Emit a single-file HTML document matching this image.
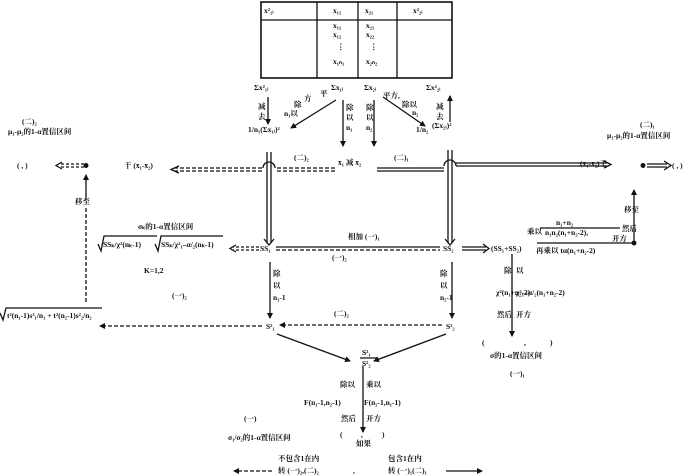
<!DOCTYPE html>
<html><head><meta charset="utf-8"><style>
html,body{margin:0;padding:0;background:#fff;}
svg{display:block}
text{font-family:"Liberation Serif","Noto Serif CJK SC",serif;font-size:7.5px;fill:#111;font-weight:bold}
</style></head><body>
<svg width="700" height="476" viewBox="0 0 700 476" xmlns="http://www.w3.org/2000/svg">
<defs>
<marker id="a" markerWidth="6" markerHeight="6" refX="5" refY="3" orient="auto" markerUnits="userSpaceOnUse"><path d="M0,0 L6,3 L0,6 z" fill="#111"/></marker>
</defs>
<g stroke="#111" fill="none" stroke-width="1.3">
<rect x="261" y="2" width="191" height="76" stroke-width="1.6"/>
<line x1="261" y1="20" x2="452" y2="20"/>
<line x1="317" y1="2" x2="317" y2="78"/>
<line x1="358" y1="2" x2="358" y2="78"/>
<line x1="397" y1="2" x2="397" y2="78"/>
<line x1="268" y1="97" x2="268" y2="124" marker-end="url(#a)"/>
<line x1="336" y1="100" x2="291" y2="128" marker-end="url(#a)"/>
<line x1="343" y1="100" x2="343" y2="146" marker-end="url(#a)"/>
<line x1="374" y1="100" x2="374" y2="146" marker-end="url(#a)"/>
<line x1="383" y1="97" x2="425" y2="126" marker-end="url(#a)"/>
<line x1="450" y1="122" x2="450" y2="96" marker-end="url(#a)"/>
<path d="M335,168 L276,168 M335,171 L276,171" stroke-dasharray="4,2"/>
<path d="M262,168 L175,168 M262,171 L175,171" stroke-dasharray="4,2"/>
<path d="M179,166 L171,169.5 L179,173"/>
<path d="M377,168 L444,168 M377,171 L444,171"/>
<path d="M456,163 L607,163 M456,166 L607,166"/>
<path d="M604,161 L611,164.5 L604,168"/>
<path d="M84,164 L60,164 M84,167 L60,167" stroke-dasharray="3,2"/>
<path d="M62,162 L56,165.5 L62,169"/>
<path d="M647,164 L667,164 M647,167 L667,167"/>
<path d="M664,161 L671,165.5 L664,170"/>
<path d="M263,168 A6,6 0 0 1 275,168"/>
<path d="M444,166 A6,6 0 0 1 456,166"/>
<path d="M267,152 L267,243 M271,152 L271,243"/>
<path d="M448,150 L448,243 M452,150 L452,243"/>
<path d="M264,239 L269,245 L274,239"/>
<path d="M445,239 L450,245 L455,239"/>
<circle cx="86" cy="165.5" r="1.8" fill="#111"/>
<circle cx="643" cy="165.5" r="1.8" fill="#111"/>
<line x1="86" y1="200" x2="86" y2="175" marker-end="url(#a)"/>
<line x1="86" y1="208" x2="86" y2="304" stroke-dasharray="4,2"/>
<path d="M259,247 L233,247 M259,250 L233,250" stroke-dasharray="3,2"/>
<path d="M236,245 L230,248.5 L236,252"/>
<path d="M276,247 L440,247"/>
<path d="M276,250 L440,250" stroke-dasharray="4,2"/>
<path d="M462,247 L486,247 M462,250 L486,250"/>
<path d="M483,244 L489,248.5 L483,253"/>
<line x1="537" y1="243" x2="632" y2="243"/>
<circle cx="634" cy="243" r="1.8" fill="#111"/>
<line x1="634" y1="241" x2="634" y2="190" marker-end="url(#a)"/>
<line x1="270" y1="262" x2="270" y2="318" marker-end="url(#a)"/>
<line x1="452" y1="262" x2="452" y2="318" marker-end="url(#a)"/>
<line x1="512" y1="254" x2="512" y2="336" marker-end="url(#a)"/>
<line x1="442" y1="325" x2="280" y2="325" stroke-dasharray="4,2" marker-end="url(#a)"/>
<line x1="262" y1="326" x2="100" y2="326" stroke-dasharray="4,2" marker-end="url(#a)"/>
<line x1="277" y1="334" x2="350" y2="361" marker-end="url(#a)"/>
<line x1="446" y1="334" x2="374" y2="361" marker-end="url(#a)"/>
<line x1="360" y1="358" x2="378" y2="358"/>
<line x1="363" y1="366" x2="363" y2="432" marker-end="url(#a)"/>
<line x1="272" y1="471" x2="234" y2="471" stroke-dasharray="4,2" marker-end="url(#a)"/>
<line x1="446" y1="471" x2="482" y2="471" marker-end="url(#a)"/>
<path d="M98,244 L101,251 L104,236 L157,236 M155,244 L158,251 L161,236 L223,236"/>
<path d="M0,313 L3,320 L6,308 L102,308"/>
<line x1="540" y1="228" x2="620" y2="228"/>
</g>
<text x="264" y="13">x²₁ᵢ</text>
<text x="333" y="13">x₁₁</text>
<text x="365" y="13">x₂₁</text>
<text x="413" y="13">x²₂ᵢ</text>
<text x="333" y="28">x₁₁</text><text x="333" y="37">x₁₂</text><text x="337" y="49">⋮</text><text x="333" y="64">x₁ₙ₁</text>
<text x="366" y="28">x₂₁</text><text x="366" y="37">x₂₂</text><text x="370" y="49">⋮</text><text x="366" y="64">x₂ₙ₂</text>
<text x="254" y="90">Σx²₁ᵢ</text>
<text x="331" y="90">Σx₁ᵢ</text>
<text x="364" y="90">Σx₂ᵢ</text>
<text x="426" y="90">Σx²₂ᵢ</text>
<text x="258" y="109">减</text><text x="258" y="119">去</text>
<text x="436" y="109">减</text><text x="436" y="119">去</text>
<text x="320" y="96">平</text><text x="304" y="101">方</text><text x="294" y="107">除</text><text x="284" y="116">n₁以</text>
<text x="346" y="110">除</text><text x="346" y="120">以</text><text x="346" y="130">n₁</text>
<text x="366" y="110">除</text><text x="366" y="120">以</text><text x="366" y="130">n₂</text>
<text x="383" y="98">平方,</text><text x="402" y="107">除以</text><text x="412" y="115">n₂</text>
<text x="248" y="132">1/n₁(Σx₁ᵢ)²</text>
<text x="416" y="132">1/n₂</text><text x="432" y="128">(Σx₂ᵢ)²</text>
<text x="294" y="160">(二)₂</text>
<text x="394" y="160">(二)₁</text>
<text x="338" y="165">x̄₁  减  x̄₂</text>
<text x="124" y="168">干 (x̄₁-x̄₂)</text>
<text x="17" y="168">( , )</text>
<text x="580" y="166">(x̄₁-x̄₂)干</text>
<text x="672" y="168">( , )</text>
<text x="22" y="124">(二)₂</text>
<text x="8" y="134">μ₁-μ₂的1-α置信区间</text>
<text x="640" y="127">(二)₁</text>
<text x="607" y="138">μ₁-μ₂的1-α置信区间</text>
<text x="75" y="204">移至</text>
<text x="624" y="212">移至</text>
<text x="138" y="229">σₖ的1-α置信区间</text>
<text x="103" y="247">SSₖ/χ²(nₖ-1)</text>
<text x="161" y="247">SSₖ/χ²₁₋α/₂(nₖ-1)</text>
<text x="144" y="273">K=1,2</text>
<text x="172" y="298">(一)₂</text>
<text x="7" y="318">t²(n₁-1)s²₁/n₁ + t²(n₂-1)s²₂/n₂</text>
<text x="260" y="251">SS₁</text>
<text x="443" y="251">SS₂</text>
<text x="491" y="251">(SS₁+SS₂)</text>
<text x="348" y="239">相加 (一)₁</text>
<text x="332" y="260">(一)₂</text>
<text x="556" y="225">n₁+n₂</text>
<text x="527" y="234">乘以</text>
<text x="545" y="235">n₁n₂(n₁+n₂-2),</text>
<text x="622" y="231">然后</text><text x="612" y="241">开方</text>
<text x="536" y="253">再乘以 tα(n₁+n₂-2)</text>
<text x="273" y="276">除</text><text x="273" y="288">以</text><text x="273" y="300">n₁-1</text>
<text x="440" y="276">除</text><text x="440" y="288">以</text><text x="440" y="300">n₂-1</text>
<text x="504" y="273">除</text><text x="516" y="273">以</text>
<text x="496" y="295">χ²(n₁+n₂-2)</text>
<text x="516" y="295">χ²₁₋α/₂(n₁+n₂-2)</text>
<text x="497" y="317">然后</text><text x="516" y="317">开方</text>
<text x="482" y="345">(</text><text x="524" y="345">,</text><text x="550" y="345">)</text>
<text x="490" y="358">σ的1-α置信区间</text>
<text x="510" y="376">(一)₁</text>
<text x="334" y="316">(二)₂</text>
<text x="266" y="329">S²₁</text>
<text x="446" y="329">S²₂</text>
<text x="362" y="355">S²₁</text>
<text x="362" y="366">S²₂</text>
<text x="340" y="387">除以</text><text x="366" y="387">乘以</text>
<text x="304" y="405">F(n₁-1,n₂-1)</text><text x="364" y="405">F(n₂-1,n₁-1)</text>
<text x="341" y="421">然后</text><text x="366" y="421">开方</text>
<text x="244" y="421">(一)</text>
<text x="228" y="440">σ₁/σ₂的1-α置信区间</text>
<text x="340" y="437">(</text><text x="361" y="437">,</text><text x="382" y="437">)</text>
<text x="356" y="446">如果</text>
<text x="278" y="461">不包含1在内</text>
<text x="278" y="473">转 (一)₂,(二)₂</text>
<text x="353" y="473">,</text>
<text x="388" y="461">包含1在内</text>
<text x="388" y="473">转 (一)₁(二)₁</text>
</svg>
</body></html>
